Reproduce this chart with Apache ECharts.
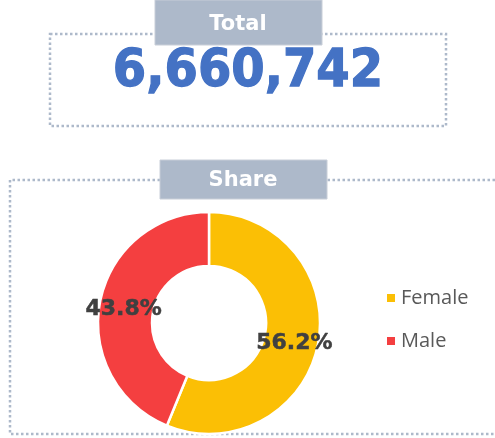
<!DOCTYPE html>
<html>
<head>
<meta charset="utf-8">
<script src="https://cdn.jsdelivr.net/npm/echarts@6/dist/echarts.min.js"></script>
<style>
  html, body { margin: 0; padding: 0; background: #fff; }
  #main { width: 495px; height: 438px; }
</style>
</head>
<body>
<div id="main"></div>
<script>
// data
const totalValue = 6660742;
const categories = ['Female', 'Male'];
const shares = [56.2, 43.8];
const colors = ['#fbbf05', '#f43f40'];

const chart = echarts.init(document.getElementById('main'));

const dotted = { stroke: '#adb9ca', lineWidth: 2.5, lineDash: [2.5, 2.5], fill: null };
const headFont = { fontFamily: 'DejaVu Sans', fontWeight: 'bold', fontSize: 21 };

const option = {
  animation: false,
  legend: {
    orient: 'vertical',
    left: 380,
    top: 283,
    itemWidth: 10,
    itemHeight: 10,
    itemGap: 23,
    icon: 'rect',
    textStyle: { fontFamily: 'Open Sans', fontSize: 20, color: '#595959' },
    data: categories
  },
  graphic: [
    // Total box
    { type: 'rect', shape: { x: 50, y: 34, width: 396, height: 92 }, style: dotted, z: 1 },
    { type: 'rect', shape: { x: 155, y: 0, width: 167, height: 45 },
      style: { fill: '#adb9ca', stroke: '#c8ced8', lineWidth: 1 }, z: 2 },
    { type: 'text', x: 238, y: 25, z: 3,
      style: Object.assign({ text: 'Total', fill: '#fff', align: 'center', verticalAlign: 'middle' }, headFont) },
    { type: 'text', x: 248, y: 73, scaleY: 1.08, z: 3,
      style: { text: totalValue.toLocaleString('en-US'), fill: '#4472c4', stroke: '#4472c4', lineWidth: 1.2,
        fontFamily: 'DejaVu Sans', fontWeight: 'bold', fontSize: 48, align: 'center', verticalAlign: 'middle' } },
    // Share box
    { type: 'polyline', shape: { points: [[500, 180], [10, 180], [10, 434], [500, 434]] }, style: dotted, z: 1 },
    { type: 'rect', shape: { x: 160, y: 160, width: 167, height: 39 },
      style: { fill: '#adb9ca', stroke: '#c8ced8', lineWidth: 1 }, z: 2 },
    { type: 'text', x: 243, y: 181, z: 3,
      style: Object.assign({ text: 'Share', fill: '#fff', align: 'center', verticalAlign: 'middle' }, headFont) }
  ],
  series: [{
    type: 'pie',
    center: [209, 323],
    radius: [57, 111],
    startAngle: 90,
    clockwise: true,
    color: colors,
    itemStyle: { borderColor: '#fff', borderWidth: 2.5 },
    label: {
      position: 'inside',
      formatter: p => p.value.toFixed(1) + '%',
      fontFamily: 'DejaVu Sans',
      fontWeight: 'bold',
      fontSize: 22,
      color: '#404040',
      textBorderColor: '#404040',
      textBorderWidth: 0.5
    },
    labelLayout: { dy: 3 },
    labelLine: { show: false },
    data: categories.map((c, i) => ({ name: c, value: shares[i] }))
  }]
};

chart.setOption(option);
</script>
</body>
</html>
